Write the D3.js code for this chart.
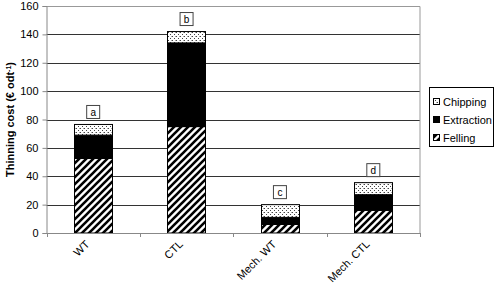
<!DOCTYPE html>
<html lang="en">
<head>
<meta charset="UTF-8">
<title>Thinning cost</title>
<style>
  body { margin: 0; background: #fff; }
  text { font-family: "Liberation Sans", Arial, sans-serif; }
</style>
</head>
<body>
<div id="chart"></div>
<script src="https://d3js.org/d3.v7.min.js"></script>
<script>
// data
const categories = ["WT", "CTL", "Mech. WT", "Mech. CTL"];
const felling    = [52.5, 75, 6, 16];
const extraction = [16.5, 59, 5, 11];
const chipping   = [7.5, 8, 9, 8.5];
const letters    = ["a", "b", "c", "d"];
const yTicks     = [0, 20, 40, 60, 80, 100, 120, 140, 160];
const seriesNames = ["Felling", "Extraction", "Chipping"];

const W = 496, H = 288;
const plot = { left: 46.5, right: 420, top: 6, bottom: 233 };

const svg = d3.select("#chart").append("svg")
  .attr("width", W).attr("height", H);

// patterns
const defs = svg.append("defs");
const hatch = defs.append("pattern")
  .attr("id", "hatch")
  .attr("patternUnits", "userSpaceOnUse")
  .attr("width", 7).attr("height", 7);
hatch.append("rect").attr("width", 7).attr("height", 7).attr("fill", "#fff");
hatch.append("path")
  .attr("d", "M0,7L7,0M-1,1L1,-1M6,8L8,6")
  .attr("stroke", "#000")
  .attr("stroke-width", 2.6);

const dots = defs.append("pattern")
  .attr("id", "dots")
  .attr("patternUnits", "userSpaceOnUse")
  .attr("width", 4).attr("height", 4);
dots.append("rect").attr("width", 4).attr("height", 4).attr("fill", "#fff");
dots.append("rect").attr("x", 0).attr("y", 0).attr("width", 1).attr("height", 1).attr("fill", "#444");
dots.append("rect").attr("x", 2).attr("y", 2).attr("width", 1).attr("height", 1).attr("fill", "#444");
dots.append("rect").attr("x", 3).attr("y", 0).attr("width", 1).attr("height", 1).attr("fill", "#aaa");

const fills = { Felling: "url(#hatch)", Extraction: "#000", Chipping: "url(#dots)" };

const x = d3.scaleBand()
  .domain(categories)
  .range([plot.left, plot.right])
  .paddingInner(0.59)
  .paddingOuter(0.295);

const y = d3.scaleLinear()
  .domain([0, 160])
  .range([plot.bottom, plot.top]);

// grid lines
svg.append("g")
  .selectAll("line")
  .data(yTicks.slice(1, -1))
  .join("line")
  .attr("x1", plot.left).attr("x2", plot.right)
  .attr("y1", d => Math.round(y(d)) + 0.5)
  .attr("y2", d => Math.round(y(d)) + 0.5)
  .attr("stroke", "#333")
  .attr("stroke-width", 1);

// frame top/right
svg.append("path")
  .attr("d", `M${plot.left},${Math.round(y(160)) + 0.5}H${plot.right}V${plot.bottom}`)
  .attr("fill", "none")
  .attr("stroke", "#999")
  .attr("stroke-width", 1);

// stacked bars
const rows = categories.map((c, i) => ({
  cat: c, Felling: felling[i], Extraction: extraction[i], Chipping: chipping[i]
}));
const stack = d3.stack().keys(seriesNames)(rows);

svg.append("g")
  .selectAll("g")
  .data(stack)
  .join("g")
  .attr("fill", d => fills[d.key])
  .selectAll("rect")
  .data(d => d)
  .join("rect")
  .attr("x", d => Math.round(x(d.data.cat)) + 0.5)
  .attr("width", Math.round(x.bandwidth()))
  .attr("y", d => y(d[1]))
  .attr("height", d => y(d[0]) - y(d[1]))
  .attr("stroke", "#000")
  .attr("stroke-width", 1);

// letter boxes
const lab = svg.append("g")
  .selectAll("g")
  .data(rows)
  .join("g")
  .attr("transform", (d, i) => {
    const tot = felling[i] + extraction[i] + chipping[i];
    return `translate(${x(d.cat) + x.bandwidth() / 2},${y(tot) - 12})`;
  });
lab.append("rect")
  .attr("x", -6.5).attr("y", -7)
  .attr("width", 13).attr("height", 13)
  .attr("fill", "#fff")
  .attr("stroke", "#444");
lab.append("text")
  .attr("text-anchor", "middle")
  .attr("y", 3.5)
  .style("font-size", "10px")
  .text((d, i) => letters[i]);

// y axis
svg.append("g")
  .attr("transform", `translate(${plot.left},0)`)
  .call(d3.axisLeft(y).tickValues(yTicks).tickSize(4).tickPadding(4))
  .call(g => g.select(".domain").attr("stroke", "#888"))
  .call(g => g.selectAll(".tick line").attr("stroke", "#888"))
  .call(g => g.selectAll(".tick text")
    .style("font-size", "11px")
    .style("font-family", "Liberation Sans, Arial, sans-serif")
    .attr("fill", "#000"));

// x axis
const bounds = d3.range(categories.length + 1).map(i => x.range()[0] + i * x.step());
svg.append("line")
  .attr("x1", plot.left).attr("x2", plot.right)
  .attr("y1", plot.bottom + 0.5).attr("y2", plot.bottom + 0.5)
  .attr("stroke", "#888");
svg.append("g")
  .selectAll("line")
  .data(bounds)
  .join("line")
  .attr("x1", d => Math.round(d) + 0.5).attr("x2", d => Math.round(d) + 0.5)
  .attr("y1", plot.bottom).attr("y2", plot.bottom + 4)
  .attr("stroke", "#888");

svg.append("g")
  .selectAll("text")
  .data(categories)
  .join("text")
  .attr("transform", d => `translate(${x(d) + x.bandwidth() / 2 - 3},${plot.bottom + 12}) rotate(-45)`)
  .attr("text-anchor", "end")
  .style("font-size", "11px")
  .text(d => d);

// y title
const yt = svg.append("text")
  .attr("transform", `translate(14,${(plot.top + plot.bottom) / 2}) rotate(-90)`)
  .attr("text-anchor", "middle")
  .style("font-size", "11px")
  .style("font-weight", "bold");
yt.append("tspan").text("Thinning cost (€ odt");
yt.append("tspan").attr("baseline-shift", "super").style("font-size", "7px").text("-1");
yt.append("tspan").text(")");

// legend
const leg = svg.append("g").attr("transform", "translate(429,87)");
leg.append("rect")
  .attr("x", 0.5).attr("y", 0.5)
  .attr("width", 64).attr("height", 59)
  .attr("fill", "#fff").attr("stroke", "#000");
const legItems = ["Chipping", "Extraction", "Felling"];
const li = leg.selectAll("g.item")
  .data(legItems)
  .join("g")
  .attr("class", "item")
  .attr("transform", (d, i) => `translate(4,${15 + i * 18})`);
li.append("rect")
  .attr("x", 0.5).attr("y", -3.5)
  .attr("width", 6).attr("height", 6)
  .attr("fill", d => fills[d])
  .attr("stroke", "#000");
li.append("text")
  .attr("x", 10).attr("y", 4)
  .style("font-size", "11px")
  .text(d => d);
</script>
</body>
</html>
